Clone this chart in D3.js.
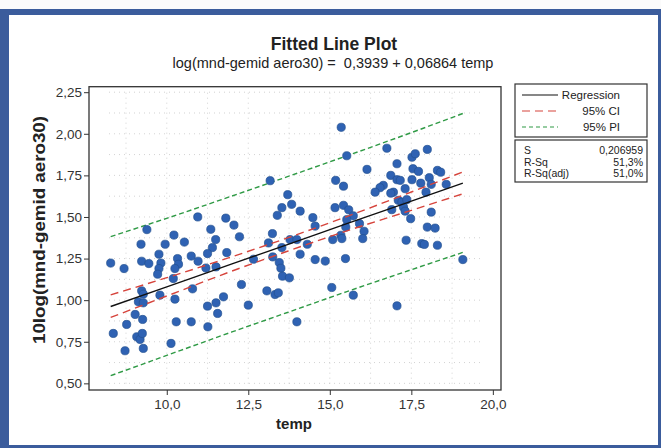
<!DOCTYPE html>
<html>
<head>
<meta charset="utf-8">
<script src="https://cdn.jsdelivr.net/npm/d3@7"></script>
<style>
body { margin: 0; background: #fff; }
text { font-family: "Liberation Sans", Arial, sans-serif; }
</style>
</head>
<body>
<script>
const width = 661;
const height = 448;

// data
const temp = [
  8.28, 8.69, 9.39, 9.21, 9.23, 9.45, 9.76, 9.82, 9.76, 9.72,
  9.95, 10.22, 10.54, 10.33, 10.36, 10.25, 10.20, 10.75, 10.96, 10.95,
  11.20, 11.35, 11.50, 11.40, 11.25, 11.51, 11.84, 11.81, 12.06, 12.23,
  9.23, 9.28, 9.13, 9.28, 9.79, 10.25, 10.79, 11.25, 11.51, 11.74,
  11.56, 9.03, 8.77, 9.26, 8.36, 9.08, 9.18, 9.25, 8.72, 9.28,
  10.13, 10.29, 10.75, 11.26, 12.29,
  13.17, 12.66, 12.50, 13.71, 13.83, 13.53, 13.39, 14.09, 13.24, 13.12,
  13.53, 13.78, 13.99, 14.31, 14.09, 13.25, 13.45, 13.50, 13.55, 13.76,
  13.07, 13.32, 13.42, 13.99, 14.48, 14.55, 14.55, 14.86, 15.06, 15.72,
  15.18, 15.42, 15.16, 15.42, 15.58, 15.72, 15.91, 15.52, 15.49, 15.09,
  15.34, 15.37, 16.05, 16.01, 15.48, 16.14,
  15.35, 15.52, 19.08, 17.06,
  16.75, 17.06, 17.52, 17.62, 17.99, 17.55, 17.72, 18.30, 18.40, 16.87,
  17.06, 17.16, 17.52, 18.05, 17.79, 18.11, 18.57, 16.64, 16.54, 16.39,
  16.95, 16.87, 17.31, 17.95, 17.10, 17.21, 17.36, 17.26, 17.31, 16.90,
  18.11, 17.48, 17.99, 18.23, 17.34, 17.82, 17.90, 18.30
];
const logAero = [
  1.223, 1.190, 1.424, 1.336, 1.234, 1.220, 1.276, 1.223, 1.190, 1.156,
  1.336, 1.391, 1.349, 1.250, 1.216, 1.190, 1.130, 1.265, 1.234, 1.500,
  1.193, 1.426, 1.364, 1.316, 1.280, 1.200, 1.286, 1.493, 1.451, 1.381,
  1.056, 1.036, 0.990, 0.984, 1.030, 1.006, 1.068, 0.964, 0.984, 1.020,
  0.920, 0.914, 0.854, 0.884, 0.800, 0.780, 0.764, 0.800, 0.696, 0.710,
  0.740, 0.870, 0.870, 0.840, 1.094,
  1.718, 1.246, 0.970, 1.634, 1.576, 1.556, 1.510, 1.535, 1.400, 1.344,
  1.316, 1.364, 1.364, 1.336, 1.276, 1.260, 1.226, 1.192, 1.144, 1.134,
  1.056, 1.034, 1.044, 0.870, 1.496, 1.445, 1.244, 1.235, 1.076, 1.030,
  1.720, 1.685, 1.556, 1.570, 1.543, 1.507, 1.460, 1.484, 1.439, 1.364,
  1.390, 1.370, 1.414, 1.370, 1.250, 1.786,
  2.039, 1.868, 1.244, 0.966,
  1.913, 1.820, 1.859, 1.880, 1.906, 1.790, 1.774, 1.780, 1.769, 1.750,
  1.724, 1.720, 1.724, 1.736, 1.703, 1.696, 1.696, 1.690, 1.676, 1.649,
  1.649, 1.643, 1.670, 1.649, 1.600, 1.589, 1.604, 1.559, 1.535, 1.544,
  1.529, 1.490, 1.439, 1.433, 1.360, 1.340, 1.335, 1.330
];

// fitted line and the two bands, read at a few temps
const bandTemp = [8.28, 10, 12, 13.7, 15.5, 17.5, 19.08];
const fitLine  = [0.962, 1.080, 1.218, 1.334, 1.458, 1.595, 1.703];
const ciHigh   = [1.032, 1.135, 1.261, 1.374, 1.501, 1.650, 1.771];
const ciLow    = [0.896, 1.025, 1.175, 1.294, 1.415, 1.540, 1.639];
const piHigh   = [1.382, 1.492, 1.626, 1.742, 1.866, 2.007, 2.122];
const piLow    = [0.546, 0.668, 0.809, 0.926, 1.050, 1.183, 1.287];

const xTicks = [10, 12.5, 15, 17.5, 20];
const yTicks = [0.5, 0.75, 1.0, 1.25, 1.5, 1.75, 2.0, 2.25];

const statNames  = ["S", "R-Sq", "R-Sq(adj)"];
const statValues = ["0,206959", "51,3%", "51,0%"];

const svg = d3.select("body").append("svg")
    .attr("width", width)
    .attr("height", height);

// scanned page frame
svg.append("rect").attr("x", 0).attr("y", 0).attr("width", width).attr("height", height).attr("fill", "#fbfbfb");
svg.append("rect").attr("x", 0).attr("y", 9).attr("width", width).attr("height", 439).attr("fill", "#3b5c9c");
svg.append("rect").attr("x", 9).attr("y", 15).attr("width", 649).attr("height", 430).attr("fill", "#fff");

const plot = {left: 89, top: 86.7, right: 501, bottom: 390};

const x = d3.scaleLinear().domain([7.615, 20.25]).range([plot.left, plot.right]);
const y = d3.scaleLinear().domain([0.46, 2.283]).range([plot.bottom, plot.top]);

// faint dotted grid
const g = svg.append("g");
g.selectAll(".hgrid")
    .data(d3.range(0.5, 2.26, 0.125))
    .enter().append("line")
    .attr("x1", plot.left + 20).attr("x2", plot.right - 20)
    .attr("y1", d => y(d)).attr("y2", d => y(d))
    .attr("stroke", "#c8c8c8").attr("stroke-width", 0.8).attr("stroke-dasharray", "1,4");
g.selectAll(".vgrid")
    .data(d3.range(8.75, 20, 1.25))
    .enter().append("line")
    .attr("y1", plot.top + 6).attr("y2", plot.bottom - 6)
    .attr("x1", d => x(d)).attr("x2", d => x(d))
    .attr("stroke", "#c8c8c8").attr("stroke-width", 0.8).attr("stroke-dasharray", "1,4");

const comma = f => v => d3.format(f)(v).replace(".", ",");

const yAxis = svg.append("g")
    .attr("transform", `translate(${plot.left},0)`)
    .call(d3.axisLeft(y).tickValues(yTicks).tickFormat(comma(".2f")).tickSize(5).tickPadding(2));
const xAxis = svg.append("g")
    .attr("transform", `translate(0,${plot.bottom})`)
    .call(d3.axisBottom(x).tickValues(xTicks).tickFormat(comma(".1f")).tickSize(5).tickPadding(4));
[xAxis, yAxis].forEach(a => {
    a.select(".domain").remove();
    a.selectAll("line").attr("stroke", "#333");
    a.selectAll("text").attr("fill", "#333").style("font-size", "13.5px")
        .style("font-family", "'Liberation Sans', Arial, sans-serif");
});

svg.append("rect")
    .attr("x", plot.left).attr("y", plot.top)
    .attr("width", plot.right - plot.left).attr("height", plot.bottom - plot.top)
    .attr("fill", "none").attr("stroke", "#333").attr("stroke-width", 1.3);

// bands + fit
const line = vals => d3.line()
    .x((d, i) => x(bandTemp[i]))
    .y(d => y(d))
    .curve(d3.curveMonotoneX)(vals);

svg.append("path").attr("d", line(piHigh)).attr("fill", "none")
    .attr("stroke", "#2f9a45").attr("stroke-width", 1.4).attr("stroke-dasharray", "5,3");
svg.append("path").attr("d", line(piLow)).attr("fill", "none")
    .attr("stroke", "#2f9a45").attr("stroke-width", 1.4).attr("stroke-dasharray", "5,3");

// points
svg.selectAll(".pt")
    .data(temp.map((t, i) => ({t, v: logAero[i]})))
    .enter().append("circle")
    .attr("class", "pt")
    .attr("cx", d => x(d.t))
    .attr("cy", d => y(d.v))
    .attr("r", 4.1)
    .attr("fill", "#2f62b3")
    .attr("stroke", "#22508f")
    .attr("stroke-width", 0.7);

svg.append("path").attr("d", line(ciHigh)).attr("fill", "none")
    .attr("stroke", "#d6443c").attr("stroke-width", 1.4).attr("stroke-dasharray", "8,5");
svg.append("path").attr("d", line(ciLow)).attr("fill", "none")
    .attr("stroke", "#d6443c").attr("stroke-width", 1.4).attr("stroke-dasharray", "8,5");
svg.append("path").attr("d", line(fitLine)).attr("fill", "none")
    .attr("stroke", "#111").attr("stroke-width", 1.4);

// titles
svg.append("text").attr("x", 334).attr("y", 50).attr("text-anchor", "middle")
    .style("font-size", "17.5px").style("font-weight", "bold").attr("fill", "#222")
    .text("Fitted Line Plot");
svg.append("text").attr("x", 333).attr("y", 68).attr("text-anchor", "middle")
    .style("font-size", "14.5px").style("white-space", "pre").attr("fill", "#222")
    .text("log(mnd-gemid aero30) =  0,3939 + 0,06864 temp");
svg.append("text").attr("x", 294).attr("y", 429).attr("text-anchor", "middle")
    .style("font-size", "15px").style("font-weight", "bold").attr("fill", "#222")
    .text("temp");
svg.append("text")
    .attr("transform", "translate(45,230) rotate(-90)")
    .attr("text-anchor", "middle")
    .attr("textLength", 228).attr("lengthAdjust", "spacingAndGlyphs")
    .style("font-size", "16px").style("font-weight", "bold").attr("fill", "#222")
    .text("10log(mnd-gemid aero30)");

// legend
const legend = svg.append("g");
legend.append("rect").attr("x", 515).attr("y", 84).attr("width", 132).attr("height", 53)
    .attr("fill", "#fff").attr("stroke", "#333").attr("stroke-width", 1.2);
const legItems = [
    {name: "Regression", color: "#111", dash: null},
    {name: "95% CI", color: "#d6443c", dash: "8,5"},
    {name: "95% PI", color: "#2f9a45", dash: "4,3"}
];
legItems.forEach((d, i) => {
    const yy = 95 + i * 16;
    legend.append("line").attr("x1", 522).attr("x2", 558).attr("y1", yy).attr("y2", yy)
        .attr("stroke", d.color).attr("stroke-width", 1.2).attr("stroke-dasharray", d.dash);
    legend.append("text").attr("x", 620).attr("y", yy + 4).attr("text-anchor", "end")
        .style("font-size", "11.5px").attr("fill", "#222").text(d.name);
});

// stats box
const stats = svg.append("g");
stats.append("rect").attr("x", 515).attr("y", 140).attr("width", 132).attr("height", 42)
    .attr("fill", "#fff").attr("stroke", "#333").attr("stroke-width", 1.2);
statNames.forEach((s, i) => {
    const yy = 154 + i * 11.5;
    stats.append("text").attr("x", 524).attr("y", yy)
        .style("font-size", "10.5px").attr("fill", "#222").text(s);
    stats.append("text").attr("x", 643).attr("y", yy).attr("text-anchor", "end")
        .style("font-size", "10.5px").attr("fill", "#222").text(statValues[i]);
});
</script>
</body>
</html>
